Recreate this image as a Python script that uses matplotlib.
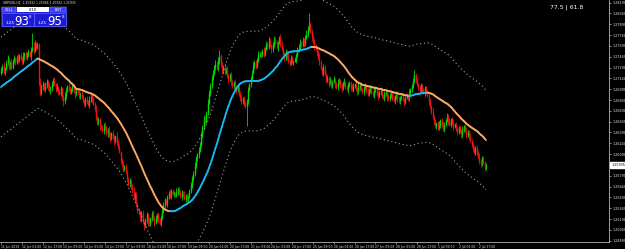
import numpy as np
import pandas as pd
import matplotlib
matplotlib.use('Agg')
from matplotlib import pyplot as plt
from matplotlib.collections import LineCollection
from matplotlib.patches import Rectangle
import matplotlib.transforms as mtransforms


# GBPUSD H1, prices x 1e-4. pre_close = bars left of the window (only feed the MA)
pre_close = [12690, 12694, 12688, 12684, 12687, 12692, 12698, 12695, 12690, 12686,
             12682, 12679, 12684, 12689, 12693, 12697, 12700, 12696, 12692, 12688,
             12691, 12695, 12699, 12703, 12700, 12697, 12701, 12705, 12708, 12704,
             12700, 12703, 12707, 12711, 12709, 12713, 12716, 12712, 12718, 12722]

close = [12726, 12731, 12722, 12728,
         12735, 12741, 12730, 12736, 12729, 12738,
         12742, 12736, 12744, 12739, 12746, 12741, 12737, 12745, 12749, 12743, 12747,
         12750, 12745, 12753, 12758, 12752,
         12762, 12756, 12761,
         12708, 12694, 12703,
         12706, 12699, 12704, 12710, 12703, 12697, 12700, 12706, 12712, 12705,
         12699, 12702, 12696, 12693, 12700, 12688, 12682, 12690, 12697, 12703,
         12701, 12695, 12699, 12704, 12697, 12692, 12698, 12694, 12689, 12693,
         12688, 12683, 12679, 12686, 12681, 12677, 12684, 12690, 12685, 12679,
         12672, 12660, 12652, 12657, 12648,
         12645, 12641, 12650, 12644, 12638, 12643, 12636, 12630, 12638, 12633,
         12627, 12634, 12625, 12619, 12612,
         12600, 12594, 12588, 12592, 12584,
         12575, 12568, 12572, 12565,
         12558, 12549, 12553, 12540, 12532, 12527,
         12520, 12528, 12515, 12510, 12518, 12524, 12517, 12512, 12520, 12527,
         12521, 12514, 12519, 12525, 12518, 12513, 12522, 12530,
         12538, 12545, 12541,
         12549, 12555, 12551, 12558, 12554, 12554, 12552, 12557, 12561, 12555,
         12550, 12556, 12553, 12547, 12551,
         12546, 12550,
         12558, 12566, 12574, 12582, 12592, 12603,
         12608, 12614, 12622, 12634, 12646, 12658, 12654, 12666, 12680, 12694,
         12704, 12714, 12722, 12730,
         12734, 12727, 12738, 12745, 12732, 12725, 12730,
         12722, 12727, 12718, 12713, 12718, 12709, 12704, 12709, 12701, 12697, 12702, 12693,
         12688, 12682, 12686, 12678, 12676, 12682, 12698, 12706,
         12714, 12722, 12731, 12736, 12730, 12740, 12747, 12748,
         12745, 12752, 12748, 12755, 12762, 12758, 12766, 12760, 12754, 12761,
         12768, 12763, 12757, 12764, 12770, 12762, 12755,
         12748, 12742, 12750, 12744, 12738,
         12735, 12742, 12737, 12738, 12739, 12746,
         12752, 12758, 12764, 12760, 12767, 12762, 12770,
         12776, 12783, 12788, 12779, 12771,
         12765, 12757, 12755, 12750, 12744,
         12736, 12728, 12722, 12730, 12720, 12712,
         12714, 12707, 12711, 12704, 12709, 12713, 12706, 12702, 12708, 12711,
         12704, 12700, 12707, 12709, 12702, 12699, 12705, 12708, 12701, 12698,
         12704, 12706, 12699, 12696, 12702, 12705, 12698, 12695, 12701, 12703,
         12696, 12693, 12699, 12701, 12694, 12691, 12697, 12699, 12692, 12689,
         12695, 12697, 12690, 12687, 12693, 12695, 12688, 12685, 12691, 12693,
         12686, 12683, 12689, 12692, 12685, 12682, 12688, 12690, 12684, 12681,
         12687, 12689, 12686,
         12694, 12699, 12703,
         12710, 12718, 12712, 12706,
         12702, 12697, 12703, 12699, 12694, 12700, 12696, 12690,
         12682, 12675, 12668, 12660, 12654, 12648,
         12652, 12645, 12650, 12656, 12649, 12644,
         12650, 12656, 12661, 12655, 12650, 12657, 12652, 12647,
         12650, 12644, 12639, 12646, 12641, 12637, 12643, 12648,
         12642, 12636, 12640, 12633, 12628,
         12622, 12617, 12612, 12618, 12610, 12605,
         12600, 12596, 12603, 12598, 12590, 12594]

# wick length above / below the body, pips
up_wick = [4, 3, 5, 2, 4, 6, 3, 2, 5, 3, 4, 2, 3, 5, 2, 4, 3, 6, 2, 3,
           3, 5, 2, 4, 19, 6, 5, 3, 4, 2, 6, 3, 4, 2, 5, 3, 2, 4, 3, 5,
           2, 4, 3, 5, 2, 3, 4, 2, 3, 5, 3, 2, 4, 3, 2, 5, 3, 4, 2, 3,
           4, 2, 3, 5, 3, 2, 4, 3, 5, 2, 3, 4, 2, 5, 3, 4, 2, 3, 5, 2,
           3, 4, 2, 5, 3, 2, 4, 3, 2, 5, 3, 4, 2, 3, 5, 2, 4, 3, 2, 4,
           3, 2, 5, 3, 4, 2, 3, 5, 2, 4, 3, 2, 5, 3, 4, 2, 3, 4, 2, 5,
           3, 4, 2, 3, 5, 4, 3, 2, 4, 3, 5, 2, 3, 4, 2, 5, 3, 2, 4, 3,
           2, 5, 3, 4, 2, 3, 4, 5, 3, 6, 4, 3, 5, 4, 6, 3, 5, 4, 3, 5,
           4, 3, 5, 4, 3, 6, 4, 5, 8, 3, 4, 2, 5, 3, 4, 2, 3, 5, 3, 2,
           4, 3, 2, 5, 3, 4, 2, 3, 5, 3, 4, 2, 3, 4, 5, 3, 4, 2, 5, 3,
           4, 3, 5, 2, 4, 3, 5, 4, 2, 3, 5, 3, 4, 2, 3, 5, 4, 3, 2, 4,
           3, 5, 2, 4, 3, 2, 4, 3, 5, 3, 4, 2, 5, 3, 4, 5, 3, 17, 4, 3,
           5, 3, 4, 2, 3, 5, 3, 2, 4, 3, 2, 4, 3, 5, 2, 3, 4, 2, 3, 5,
           3, 2, 4, 3, 5, 2, 3, 4, 2, 3, 5, 3, 2, 4, 3, 5, 2, 4, 3, 2,
           4, 3, 5, 2, 3, 4, 2, 5, 3, 2, 4, 3, 5, 2, 3, 4, 2, 3, 5, 3,
           2, 4, 3, 2, 5, 3, 4, 2, 3, 5, 3, 2, 4, 3, 5, 2, 3, 4, 8, 3,
           4, 2, 3, 5, 3, 2, 4, 3, 2, 4, 3, 2, 5, 3, 4, 2, 3, 5, 2, 3,
           4, 3, 2, 5, 3, 4, 2, 3, 5, 2, 4, 3, 2, 4, 3, 5, 2, 3, 4, 2,
           3, 5, 2, 4, 3, 2, 4, 3, 5, 2, 3, 4, 2, 3]
dn_wick = [3, 5, 2, 4, 3, 2, 5, 3, 4, 2, 3, 4, 2, 5, 3, 2, 4, 3, 5, 2,
           4, 3, 2, 5, 3, 4, 2, 3, 2, 5, 4, 3, 5, 2, 4, 3, 5, 2, 4, 3,
           3, 2, 4, 3, 5, 2, 3, 4, 6, 3, 5, 2, 4, 3, 2, 4, 3, 5, 3, 2,
           3, 4, 2, 3, 4, 5, 3, 2, 4, 3, 5, 2, 3, 4, 3, 2, 5, 3, 2, 4,
           2, 3, 5, 3, 4, 2, 3, 5, 2, 4, 3, 2, 5, 3, 4, 2, 3, 5, 3, 4,
           4, 3, 2, 5, 3, 4, 2, 3, 5, 3, 6, 2, 4, 7, 3, 2, 4, 3, 5, 2,
           3, 5, 2, 4, 3, 2, 4, 3, 5, 2, 3, 4, 2, 5, 3, 2, 4, 3, 2, 5,
           3, 2, 4, 3, 5, 2, 3, 4, 2, 3, 2, 3, 4, 2, 3, 2, 4, 3, 2, 3,
           2, 4, 3, 2, 3, 4, 2, 3, 4, 2, 5, 3, 4, 2, 3, 5, 2, 4, 3, 5,
           3, 4, 2, 3, 5, 3, 4, 2, 3, 28, 3, 2, 4, 3, 2, 4, 3, 2, 3, 4,
           3, 2, 4, 3, 2, 4, 3, 2, 5, 3, 4, 2, 3, 5, 2, 4, 3, 2, 4, 3,
           5, 3, 4, 2, 3, 5, 2, 4, 3, 2, 4, 3, 2, 4, 3, 2, 4, 3, 2, 5,
           3, 4, 2, 5, 3, 4, 2, 3, 5, 2, 4, 3, 5, 2, 3, 4, 2, 5, 3, 4,
           2, 3, 5, 2, 4, 3, 2, 5, 3, 4, 2, 3, 4, 2, 5, 3, 4, 2, 3, 4,
           3, 2, 4, 3, 5, 2, 3, 4, 2, 3, 5, 2, 4, 3, 2, 4, 3, 5, 2, 3,
           4, 3, 2, 5, 3, 4, 2, 3, 4, 2, 5, 3, 2, 4, 3, 2, 4, 3, 2, 4,
           3, 4, 2, 3, 5, 2, 4, 3, 2, 5, 3, 4, 2, 5, 3, 4, 2, 3, 5, 2,
           3, 4, 2, 3, 5, 2, 4, 3, 5, 2, 3, 4, 2, 3, 5, 4, 3, 2, 4, 3,
           4, 2, 3, 5, 3, 4, 2, 3, 4, 5, 3, 2, 4, 3]

time_labels = ['11 Jun 2019', '12 Jun 01:00', '12 Jun 17:00', '13 Jun 09:00',
               '14 Jun 01:00', '14 Jun 17:00', '17 Jun 09:00', '18 Jun 01:00',
               '18 Jun 17:00', '19 Jun 09:00', '20 Jun 01:00', '20 Jun 17:00',
               '21 Jun 09:00', '24 Jun 01:00', '24 Jun 17:00', '25 Jun 09:00',
               '26 Jun 01:00', '26 Jun 17:00', '27 Jun 09:00', '28 Jun 01:00',
               '28 Jun 17:00', '1 Jul 09:00', '2 Jul 01:00', '2 Jul 17:00']
price_ticks = [1.28190, 1.28040, 1.27890, 1.27740, 1.27590, 1.27440, 1.27290, 1.27140,
               1.26990, 1.26840, 1.26690, 1.26540, 1.26390, 1.26240, 1.26090, 1.25940,
               1.25790, 1.25640, 1.25490, 1.25340, 1.25190, 1.25040, 1.24890]
bid = 1.25935
ma_period = 30
band = 0.0069

allc = np.array(pre_close + close) / 10000.0
sma = pd.Series(allc).rolling(ma_period).mean().values
npre = len(pre_close)
c = allc[npre:]
o = allc[npre - 1:-1]
hi = np.maximum(o, c) + np.array(up_wick) / 10000.0
lo = np.minimum(o, c) - np.array(dn_wick) / 10000.0
ma = sma[npre:]
x = np.arange(len(c))

fig = plt.figure(figsize=(6.25, 2.49), dpi=100, facecolor='black')
ax = fig.add_axes([0, 1 - 241.5 / 249, 609 / 625, 241.5 / 249])
ax.set_facecolor('black')

up = c >= o
for m, col in ((up, '#00dd00'), (~up, '#ee1111')):
    ax.vlines(x[m], lo[m], hi[m], color=col, lw=0.6)
    ax.vlines(x[m], np.minimum(o, c)[m], np.maximum(o, c)[m], color=col, lw=1.0)

# bands
ax.plot(x, ma + band, ls=(0, (1, 2.5)), color='#a0a0a0', lw=0.8)
ax.plot(x, ma - band, ls=(0, (1, 2.5)), color='#a0a0a0', lw=0.8)

# MA coloured by slope
pts = np.column_stack([x, ma])
segs = np.stack([pts[:-1], pts[1:]], axis=1)
cols = np.where(np.diff(ma) >= 0, '#1ab8f0', '#ffa860')
ax.add_collection(LineCollection(segs, colors=cols, linewidths=1.3, capstyle='round'))

ax.set_xlim(-0.77, 467.7)
ax.set_ylim(1.24879, 1.28226)

for s in ['top', 'left']:
    ax.spines[s].set_visible(False)
for s in ['right', 'bottom']:
    ax.spines[s].set_color('#b4b4b4')
    ax.spines[s].set_linewidth(0.6)

ax.yaxis.tick_right()
ax.set_yticks(price_ticks)
ax.set_yticklabels(['%.5f' % p for p in price_ticks])
ax.tick_params(axis='y', colors='#b4b4b4', labelcolor='#e6e6e6', labelsize=2.4,
               length=1.5, width=0.5, pad=1)
ax.set_xticks(np.arange(len(time_labels)) * 16)
ax.set_xticklabels(time_labels, ha='left')
ax.tick_params(axis='x', colors='#b4b4b4', labelcolor='#e6e6e6', labelsize=2.2,
               length=1.5, width=0.5, pad=1)

trans = mtransforms.blended_transform_factory(ax.transAxes, ax.transData)
ax.text(1.004, bid, '%.5f' % bid, transform=trans, fontsize=2.4, color='black',
        va='center', ha='left', clip_on=False, zorder=10,
        bbox=dict(boxstyle='square,pad=0.3', fc='white', ec='white'))

# overlay in pixel coordinates for the terminal widgets
ov = fig.add_axes([0, 0, 1, 1], zorder=5)
ov.set_xlim(0, 625)
ov.set_ylim(249, 0)
ov.axis('off')
ov.patch.set_alpha(0)

ov.text(3, 3, 'GBPUSD,H1  1.25932 1.25946 1.25922 1.25935', fontsize=2.2,
        color='#e6e6e6', va='center', ha='left')
ov.text(583, 7, '77.5 | 61.8', fontsize=4.4, color='white', va='center', ha='right')

narrow = ['Liberation Sans Narrow', 'DejaVu Sans']
panel = '#1c1cd6'
btn = '#3c3cff'
ov.add_patch(Rectangle((1, 6.5), 66, 20, fc=panel, ec='none'))
ov.add_patch(Rectangle((2, 7), 14, 5, fc=btn, ec='#9a9aff', lw=0.3))
ov.text(9, 9.6, 'SELL', fontsize=2.6, color='white', ha='center', va='center')
ov.add_patch(Rectangle((17, 7), 32, 5, fc='white', ec='none'))
ov.text(33, 9.6, '0.10', fontsize=2.6, color='black', ha='center', va='center')
ov.add_patch(Rectangle((50, 7), 16, 5, fc=btn, ec='#9a9aff', lw=0.3))
ov.text(58, 9.6, 'BUY', fontsize=2.6, color='white', ha='center', va='center')
for x0, big in ((1.5, '93'), (34, '95')):
    ov.add_patch(Rectangle((x0, 13), 32, 13, fc=panel, ec='#7878ff', lw=0.4))
    ov.text(x0 + 4, 23.5, '1.25', fontsize=3, color='white', va='baseline', ha='left')
    ov.text(x0 + 13, 24.5, big, fontsize=8.5, color='white', va='baseline', ha='left',
            family=narrow)
    ov.text(x0 + 27.5, 18, '8', fontsize=3.0, color='white', va='baseline', ha='left')

fig.savefig('out.png', dpi=100, facecolor='black')
